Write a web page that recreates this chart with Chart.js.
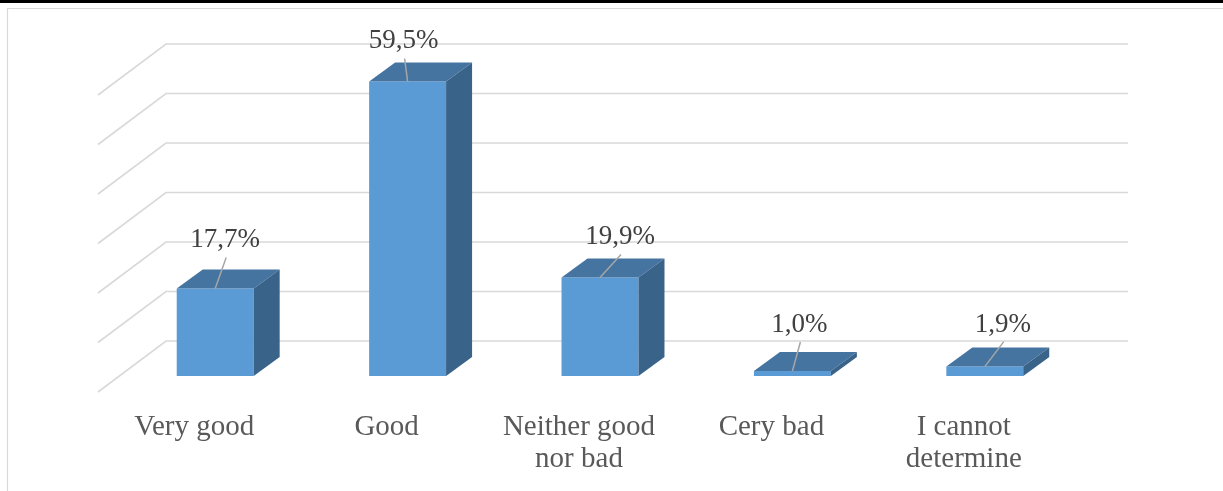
<!DOCTYPE html>
<html>
<head>
<meta charset="utf-8">
<script src="https://cdn.jsdelivr.net/npm/chart.js@4/dist/chart.umd.min.js"></script>
<style>
  html, body { margin: 0; padding: 0; background: #fff; overflow: hidden; }
  #wrap { width: 1223px; height: 491px; position: relative; }
  canvas { display: block; }
</style>
</head>
<body>
<div id="wrap"><canvas id="chart" width="1223" height="491"></canvas></div>
<script>
// Survey answers and their shares (%)
const categories = [
  ['Very good'],
  ['Good'],
  ['Neither good', 'nor bad'],
  ['Cery bad'],
  ['I cannot', 'determine']
];
const shares = [17.7, 59.5, 19.9, 1.0, 1.9];
const gridTicks = [0, 10, 20, 30, 40, 50, 60];

// Value labels follow the decimal-comma style
const valueLabels = shares.map(v => v.toFixed(1).replace('.', ',') + '%');

// Hand-placed nudges for the value labels: [dx from bar centre, baseline gap above bar top]
const labelNudge = [[10, 41], [-4, 33], [20, 33], [7, 39], [18, 35]];

// 3D projection offsets (px)
const BAR_DEPTH = { dx: 26, dy: -19 };   // bar front -> bar back
const WALL = { dx: 47, dy: -35 };        // bar front plane -> back wall
const FLOOR_FRONT = { dx: -21, dy: 16 }; // bar front plane -> floor front edge

const COLORS = {
  front: '#5B9BD5',
  top: '#4674A1',
  side: '#3A6389',
  grid: '#D9D9D9',
  leader: '#A6A6A6',
  value: '#404040',
  category: '#595959'
};

const frame3d = {
  id: 'frame3d',
  beforeDraw(chart) {
    const ctx = chart.ctx;
    ctx.save();
    ctx.fillStyle = '#ffffff';
    ctx.fillRect(0, 0, chart.width, chart.height);
    // page rule and chart border
    ctx.fillStyle = '#000000';
    ctx.fillRect(0, 0, chart.width, 3);
    ctx.strokeStyle = COLORS.grid;
    ctx.lineWidth = 1.2;
    ctx.beginPath();
    ctx.moveTo(7.5, chart.height);
    ctx.lineTo(7.5, 8.5);
    ctx.lineTo(chart.width, 8.5);
    ctx.stroke();
    ctx.restore();
  },
  beforeDatasetsDraw(chart) {
    const ctx = chart.ctx;
    const y = chart.scales.y;
    const area = chart.chartArea;
    ctx.save();
    ctx.strokeStyle = COLORS.grid;
    ctx.lineWidth = 1.6;
    gridTicks.forEach(t => {
      const py = y.getPixelForValue(t);
      ctx.beginPath();
      ctx.moveTo(area.left + FLOOR_FRONT.dx, py + FLOOR_FRONT.dy);
      ctx.lineTo(area.left + WALL.dx, py + WALL.dy);
      ctx.lineTo(area.right + WALL.dx, py + WALL.dy);
      ctx.stroke();
    });
    ctx.restore();
  },
  afterDatasetsDraw(chart) {
    const ctx = chart.ctx;
    const meta = chart.getDatasetMeta(0);
    ctx.save();
    meta.data.forEach(bar => {
      const p = bar.getProps(['x', 'y', 'base', 'width'], true);
      const l = p.x - p.width / 2, r = p.x + p.width / 2;
      // top face
      ctx.fillStyle = COLORS.top;
      ctx.beginPath();
      ctx.moveTo(l, p.y);
      ctx.lineTo(r, p.y);
      ctx.lineTo(r + BAR_DEPTH.dx, p.y + BAR_DEPTH.dy);
      ctx.lineTo(l + BAR_DEPTH.dx, p.y + BAR_DEPTH.dy);
      ctx.closePath();
      ctx.fill();
      // side face
      ctx.fillStyle = COLORS.side;
      ctx.beginPath();
      ctx.moveTo(r, p.y);
      ctx.lineTo(r + BAR_DEPTH.dx, p.y + BAR_DEPTH.dy);
      ctx.lineTo(r + BAR_DEPTH.dx, p.base + BAR_DEPTH.dy);
      ctx.lineTo(r, p.base);
      ctx.closePath();
      ctx.fill();
    });
    ctx.restore();
  },
  afterDraw(chart) {
    const ctx = chart.ctx;
    const meta = chart.getDatasetMeta(0);
    const xs = chart.scales.x;
    const area = chart.chartArea;
    ctx.save();
    // value labels with leader lines
    ctx.font = '27px "Liberation Serif", "Times New Roman", serif';
    ctx.textAlign = 'center';
    ctx.textBaseline = 'alphabetic';
    meta.data.forEach((bar, i) => {
      const p = bar.getProps(['x', 'y'], true);
      const lx = p.x + labelNudge[i][0];
      const ly = p.y - labelNudge[i][1];
      ctx.strokeStyle = COLORS.leader;
      ctx.lineWidth = 1.5;
      ctx.beginPath();
      ctx.moveTo(lx + 1, ly + 10);
      ctx.lineTo(p.x, p.y);
      ctx.stroke();
      ctx.fillStyle = COLORS.value;
      ctx.fillText(valueLabels[i], lx, ly);
    });
    // category labels along the floor's front edge
    ctx.font = '29px "Liberation Serif", "Times New Roman", serif';
    ctx.fillStyle = COLORS.category;
    categories.forEach((lines, i) => {
      const cx = xs.getPixelForValue(i) + FLOOR_FRONT.dx;
      const base = area.bottom + FLOOR_FRONT.dy + 43;
      lines.forEach((t, k) => ctx.fillText(t, cx, base + k * 32));
    });
    ctx.restore();
  }
};

new Chart(document.getElementById('chart'), {
  type: 'bar',
  data: {
    labels: categories,
    datasets: [{
      data: shares,
      backgroundColor: COLORS.front,
      borderWidth: 0,
      barPercentage: 0.4,
      categoryPercentage: 1.0
    }]
  },
  options: {
    responsive: false,
    animation: false,
    devicePixelRatio: 1,
    layout: { padding: { left: 119, right: 142, top: 79, bottom: 115 } },
    plugins: { legend: { display: false }, tooltip: { enabled: false } },
    scales: {
      x: { display: false, offset: true },
      y: { display: false, min: 0, max: 60 }
    }
  },
  plugins: [frame3d]
});
</script>
</body>
</html>
